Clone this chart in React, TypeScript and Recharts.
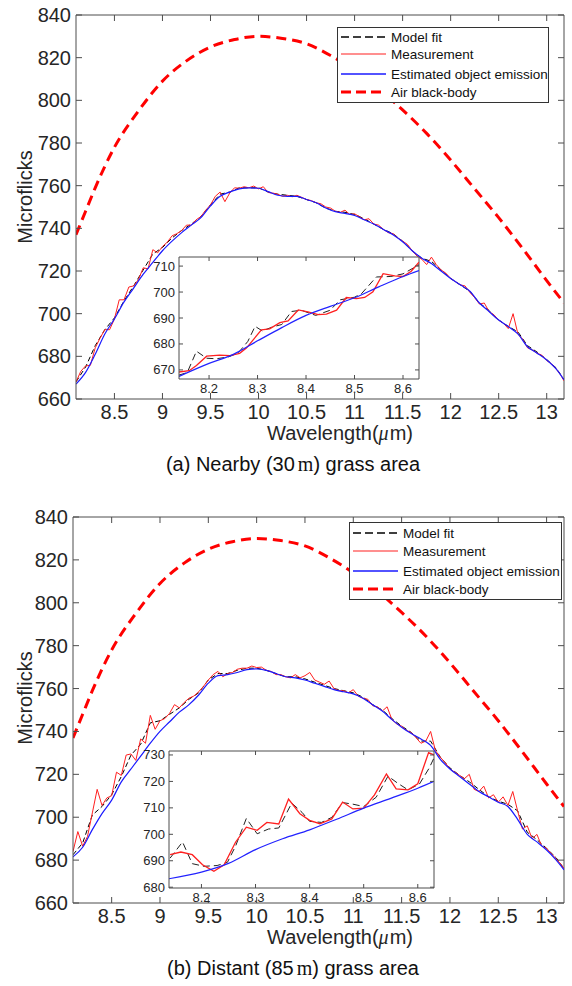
import React from "react";
import { LineChart, Line, XAxis, YAxis, ReferenceLine, CartesianGrid } from "recharts";

const FONT = '"Liberation Sans", Arial, Helvetica, sans-serif';
const SERIF = '"Liberation Serif", "DejaVu Serif", serif';
const AXIS = "#4d4d4d";
const TXT = "#262626";

// wavelength grid of the measured spectrum (um)
const measX = [
  8.1, 8.15, 8.2, 8.25, 8.3, 8.35, 8.4, 8.45, 8.5, 8.55, 8.6, 8.65, 8.7, 8.75, 8.8, 8.85, 8.9, 8.95,
  9.0, 9.05, 9.1, 9.15, 9.2, 9.25, 9.3, 9.35, 9.4, 9.45, 9.5, 9.55, 9.6, 9.65, 9.7, 9.75, 9.8, 9.85, 9.9, 9.95,
  10.0, 10.05, 10.1, 10.15, 10.2, 10.25, 10.3, 10.35, 10.4, 10.45, 10.5, 10.55, 10.6, 10.65, 10.7, 10.75, 10.8, 10.85, 10.9, 10.95,
  11.0, 11.05, 11.1, 11.15, 11.2, 11.25, 11.3, 11.35, 11.4, 11.45, 11.5, 11.55, 11.6, 11.65, 11.7, 11.75, 11.8, 11.85, 11.9, 11.95,
  12.0, 12.05, 12.1, 12.15, 12.2, 12.25, 12.3, 12.35, 12.4, 12.45, 12.5, 12.55, 12.6, 12.65, 12.7, 12.75, 12.8, 12.85, 12.9, 12.95,
  13.0, 13.05, 13.1, 13.15, 13.18,
];

// (a) nearby grass: measurement
const measA = [
  668, 673, 675.5, 675.8, 684, 688.5, 692.5, 692.5, 697.5, 706.5, 706.5, 712.5, 713, 716, 721.5, 721, 730, 728.5,
  731.5, 733.5, 736.5, 737.5, 739, 741.5, 741.5, 744, 745.5, 748.5, 751, 755, 757, 752.5, 756.5, 759, 758.8, 759.5, 759, 759.8,
  758.5, 759.5, 756.8, 756.5, 756, 755, 755.5, 754.8, 755.5, 754.5, 753.5, 753, 752, 751.5, 750, 749.5, 748, 747.5, 748.5, 746.5,
  746.8, 745.5, 744, 744.5, 742, 741.5, 739.5, 738, 737.5, 735.5, 734, 732.5, 729.5, 727, 725.5, 723, 726.5, 723, 720.5, 719,
  716.5, 715, 713.5, 713, 710, 707.5, 704.5, 705, 701, 699.5, 697, 695.5, 693, 700, 690.5, 688, 684, 683, 681.5, 680.5,
  678, 676.5, 674, 671, 668.5,
];

// (b) distant grass: measurement
const measB = [
  684, 693.3, 686.5, 691, 702, 713, 705.5, 709, 710, 721, 719.5, 729, 729.5, 726.5, 736.5, 734.5, 747.5, 741,
  745, 746, 748.5, 752.5, 751, 753.5, 755.5, 756.5, 758.5, 761, 764, 766.5, 768, 765.5, 767, 767.5, 769, 769.5, 769.5, 770.5,
  769.8, 770, 768.5, 768, 766.5, 766.5, 765.5, 765, 766.5, 765, 766, 767.5, 764, 763, 762, 763.5, 760, 759, 759, 758,
  759.5, 756.5, 755.5, 755, 752, 751.5, 749.5, 751.5, 745.5, 743.5, 742.5, 740.5, 739.5, 737, 734.5, 735.5, 740, 731, 728, 725.5,
  722.5, 721, 719.5, 718, 720, 713, 712, 714.5, 709, 710.5, 707, 709.5, 705.5, 712, 703, 694.5, 696, 690, 692, 686.5,
  685.5, 683, 680.5, 678, 676,
];

// coarser grid for model fit and estimated emission
const fitX = [
  8.1, 8.2, 8.3, 8.4, 8.5, 8.6, 8.7, 8.8, 8.9, 9.0, 9.1, 9.2, 9.3, 9.4, 9.5, 9.6, 9.7, 9.8, 9.9,
  10.0, 10.1, 10.2, 10.3, 10.4, 10.5, 10.6, 10.7, 10.8, 10.9, 11.0, 11.1, 11.2, 11.3, 11.4, 11.5, 11.6, 11.7, 11.8, 11.9,
  12.0, 12.1, 12.2, 12.3, 12.4, 12.5, 12.6, 12.7, 12.8, 12.9, 13.0, 13.1, 13.18,
];
const fitA = [
  668, 675, 685, 692.5, 698, 706, 713, 720.5, 728, 731, 735.5, 739, 742, 745.5, 751, 756, 757, 759, 759,
  759, 757, 756, 755.5, 755, 753.5, 752, 749.5, 748, 747.5, 746.5, 744.5, 742, 739.5, 737.5, 734, 729.5, 726, 724.5, 720.5,
  716.5, 713.5, 710.5, 705, 701.5, 697, 694, 691.5, 685, 682, 678.5, 674.5, 669,
];
const emisA = [
  667, 672.5, 681, 690.5, 697.5, 705.5, 712, 718.5, 724, 729.5, 734, 738, 741.5, 745, 750.5, 755, 757, 758.5, 759,
  758.8, 757.2, 755.5, 755, 755, 753.5, 752, 749.5, 747.8, 747, 746, 744, 742, 739.5, 737, 733.7, 729.5, 726, 723.5, 720,
  716.5, 713.5, 710.5, 705, 701, 697, 694, 690.5, 684.5, 681.5, 678.3, 674, 669,
];
const fitB = [
  682.5, 688, 701, 705, 710.5, 719, 729, 734, 744, 745, 748, 751, 755, 758, 764, 767, 767, 768.5, 769.5,
  769.5, 768.5, 767, 765.5, 765.5, 764.5, 763, 761.5, 760, 759, 758, 756, 752.5, 750, 746, 742.5, 739.5, 735.5, 735.5, 728,
  723, 719.5, 716.5, 713, 709.5, 707.5, 706, 703, 693, 689.5, 685.5, 681, 676,
];
const emisB = [
  681.5, 686, 694.2, 701.7, 708, 716.5, 722.5, 728.5, 734.5, 740, 744.5, 749, 752.5, 757, 762.5, 766, 766.5, 767.5, 768.8,
  769.2, 768.5, 767, 765.5, 765, 764, 762.5, 761, 759.5, 758.5, 757.5, 755.5, 752.5, 749.5, 745.5, 742, 739, 736.5, 733.5, 727,
  722.5, 719, 715.5, 712, 709.5, 707, 705, 699, 692, 688.5, 684.7, 680, 675.5,
];

// air black-body curve (same in both panels)
const airX = [8.1, 8.2, 8.3, 8.5, 8.75, 9.0, 9.25, 9.5, 9.75, 10.0, 10.25, 10.5, 10.75, 11.0, 11.25, 11.5, 11.75, 12.0, 12.25, 12.5, 12.75, 13.0, 13.18];
const airBB = [737, 748, 759, 778, 795, 809, 818.5, 825, 828.5, 830, 829, 826.5, 821, 814, 805.5, 795.5, 784.5, 772, 758.5, 745, 730.5, 715.5, 705];

// zoomed insets (8.14 - 8.63 um)
const insAMeasX = [8.138, 8.159, 8.174, 8.195, 8.222, 8.243, 8.263, 8.277, 8.291, 8.308, 8.325, 8.346, 8.363, 8.384, 8.404, 8.425, 8.442, 8.463, 8.483, 8.504, 8.521, 8.538, 8.559, 8.583, 8.6, 8.617, 8.633];
const insAMeas = [669.2, 669.7, 671.7, 675.3, 675.7, 675.5, 676.4, 678.4, 681.6, 685.4, 685.8, 688.2, 688.9, 693.1, 692.4, 691.3, 691.5, 693, 697.9, 697.5, 697.9, 700.1, 707.1, 706.2, 706, 708, 711.5];
const insAFitX = [8.138, 8.155, 8.174, 8.195, 8.215, 8.24, 8.26, 8.28, 8.295, 8.31, 8.33, 8.35, 8.37, 8.39, 8.42, 8.45, 8.47, 8.5, 8.515, 8.545, 8.575, 8.6, 8.633];
const insAFit = [668, 669, 677.2, 674.5, 674.3, 675, 676.5, 681, 686.8, 685, 686.5, 687.5, 692.5, 693, 691, 693, 697, 698, 699.5, 705.8, 706, 707, 710.5];
const insAEmisX = [8.138, 8.2, 8.25, 8.3, 8.35, 8.4, 8.45, 8.5, 8.55, 8.6, 8.633];
const insAEmis = [667.5, 672.5, 676, 681.2, 686.3, 691, 694.5, 697.8, 702, 706, 708.3];

const insBMeasX = [8.142, 8.162, 8.183, 8.202, 8.223, 8.242, 8.263, 8.283, 8.303, 8.321, 8.343, 8.361, 8.382, 8.4, 8.419, 8.441, 8.461, 8.48, 8.5, 8.52, 8.542, 8.56, 8.582, 8.6, 8.62, 8.63];
const insBMeas = [692.3, 693.3, 692.3, 688.5, 686, 688.5, 697, 702.7, 701.5, 704.5, 703.9, 713.3, 707.8, 705.3, 704, 705.8, 712.2, 709.6, 709.9, 714.9, 722.8, 717.2, 716.8, 719.1, 730.9, 730];
const insBFitX = [8.142, 8.165, 8.183, 8.205, 8.229, 8.248, 8.263, 8.283, 8.303, 8.324, 8.343, 8.367, 8.386, 8.4, 8.422, 8.441, 8.461, 8.48, 8.5, 8.523, 8.545, 8.563, 8.582, 8.603, 8.621, 8.634];
const insBFit = [691, 697.1, 688.9, 687.9, 688.2, 689.4, 695.5, 706, 700.2, 702, 702.4, 711.8, 708.3, 704.9, 704.5, 706.4, 712, 711.4, 710.5, 714, 722, 719.3, 716.8, 719, 725, 730.6];
const insBEmisX = [8.14, 8.2, 8.25, 8.3, 8.35, 8.4, 8.45, 8.5, 8.55, 8.6, 8.63];
const insBEmis = [683.2, 685.7, 689, 694.2, 698.3, 701.7, 705.7, 709.9, 713.6, 717.4, 720];

const mainXTicks = [8.5, 9, 9.5, 10, 10.5, 11, 11.5, 12, 12.5, 13];
const mainYTicks = [660, 680, 700, 720, 740, 760, 780, 800, 820, 840];
const insXTicks = [8.2, 8.3, 8.4, 8.5, 8.6];
const insAYTicks = [670, 680, 690, 700, 710];
const insBYTicks = [680, 690, 700, 710, 720, 730];

const legendNames = ["Model fit", "Measurement", "Estimated object emission", "Air black-body"];

const pts = (xs: number[], ys: number[]) => xs.map((x, i) => ({ x, y: ys[i] }));

function xTick(plotH: number, len: number, gap: number, size: number) {
  return (p: any) => (
    <g>
      <line x1={p.x} y1={p.y} x2={p.x} y2={p.y - len} stroke={AXIS} />
      <line x1={p.x} y1={p.y - plotH} x2={p.x} y2={p.y - plotH + len} stroke={AXIS} />
      <text x={p.x} y={p.y + gap} textAnchor="middle" dominantBaseline="central" fontSize={size} fontFamily={FONT} fill={TXT}>
        {p.payload.value}
      </text>
    </g>
  );
}

function yTick(plotW: number, len: number, gap: number, size: number) {
  return (p: any) => (
    <g>
      <line x1={p.x} y1={p.y} x2={p.x + len} y2={p.y} stroke={AXIS} />
      <line x1={p.x + plotW} y1={p.y} x2={p.x + plotW - len} y2={p.y} stroke={AXIS} />
      <text x={p.x - gap} y={p.y} textAnchor="end" dominantBaseline="central" fontSize={size} fontFamily={FONT} fill={TXT}>
        {p.payload.value}
      </text>
    </g>
  );
}

function XTitle({ cx, cy }: any) {
  return (
    <text x={cx} y={cy} textAnchor="middle" dominantBaseline="central" fontSize={20} fontFamily={FONT} fill={TXT}>
      Wavelength(<tspan fontFamily={SERIF} fontStyle="italic">μ</tspan>
      <tspan dx={1}>m)</tspan>
    </text>
  );
}

function YTitle({ cx, cy }: any) {
  return (
    <text x={cx} y={cy} transform={`rotate(-90 ${cx} ${cy})`} textAnchor="middle" dominantBaseline="central" fontSize={20} fontFamily={FONT} fill={TXT}>
      Microflicks
    </text>
  );
}

function MainPanel(props: any) {
  const { meas, fit, emis, margin, plotW, plotH, xTitleY, yTitleY } = props;
  return (
    <LineChart width={572} height={450} margin={margin}>
      <XAxis dataKey="x" type="number" domain={[8.1, 13.18]} allowDataOverflow ticks={mainXTicks} interval={0}
        height={30} tickSize={0} tickMargin={0} tickLine={false} axisLine={{ stroke: AXIS }}
        tick={xTick(plotH, 6, 13, 20)} label={<XTitle cx={340} cy={xTitleY} />} />
      <YAxis type="number" domain={[660, 840]} allowDataOverflow ticks={mainYTicks} interval={0}
        width={60} tickSize={0} tickMargin={0} tickLine={false} axisLine={{ stroke: AXIS }}
        tick={yTick(plotW, 6, 5, 20)} label={<YTitle cx={25} cy={yTitleY} />} />
      <ReferenceLine y={840} stroke={AXIS} />
      <ReferenceLine x={13.18} stroke={AXIS} />
      <Line data={pts(fitX, fit)} dataKey="y" type="linear" stroke="#000" strokeWidth={1} strokeDasharray="5 3" dot={false} isAnimationActive={false} />
      <Line data={pts(measX, meas)} dataKey="y" type="linear" stroke="#ff2020" strokeWidth={1} dot={false} isAnimationActive={false} />
      <Line data={pts(fitX, emis)} dataKey="y" type="monotone" stroke="#1a1aff" strokeWidth={1.2} dot={false} isAnimationActive={false} />
      <Line data={pts(airX, airBB)} dataKey="y" type="monotone" stroke="#ff0000" strokeWidth={3} strokeDasharray="10 6" dot={false} isAnimationActive={false} />
    </LineChart>
  );
}

function InsetPanel(props: any) {
  const { w, h, xDom, yDom, yTicks, plotW, plotH, meas, fit, emis } = props;
  return (
    <LineChart width={w} height={h} margin={{ top: 5, right: 5, bottom: 0, left: 0 }}>
      <CartesianGrid fill="#fff" horizontal={false} vertical={false} />
      <XAxis dataKey="x" type="number" domain={xDom} allowDataOverflow ticks={insXTicks} interval={0}
        height={20} tickSize={0} tickMargin={0} tickLine={false} axisLine={{ stroke: AXIS }}
        tick={xTick(plotH, 4, 9, 13)} />
      <YAxis type="number" domain={yDom} allowDataOverflow ticks={yTicks} interval={0}
        width={40} tickSize={0} tickMargin={0} tickLine={false} axisLine={{ stroke: AXIS }}
        tick={yTick(plotW, 4, 4, 13)} />
      <ReferenceLine y={yDom[1]} stroke={AXIS} />
      <ReferenceLine x={xDom[1]} stroke={AXIS} />
      <Line data={fit} dataKey="y" type="linear" stroke="#222" strokeWidth={1} strokeDasharray="7 4" dot={false} isAnimationActive={false} />
      <Line data={meas} dataKey="y" type="linear" stroke="#ff2020" strokeWidth={1.3} dot={false} isAnimationActive={false} />
      <Line data={emis} dataKey="y" type="monotone" stroke="#2222ff" strokeWidth={1.2} dot={false} isAnimationActive={false} />
    </LineChart>
  );
}

function LegendBox({ left, top, w, h, rows }: any) {
  const styles = [
    { stroke: "#000", width: 1.6, dash: "8 4" },
    { stroke: "#ff2020", width: 1.2, dash: undefined },
    { stroke: "#1a1aff", width: 1.6, dash: undefined },
    { stroke: "#ff0000", width: 3, dash: "10 5" },
  ];
  return (
    <svg width={w} height={h} style={{ position: "absolute", left, top }}>
      <rect x={0.5} y={0.5} width={w - 1} height={h - 1} fill="#fff" stroke="#333" />
      {legendNames.map((name, i) => (
        <g key={name}>
          <line x1={4} x2={49} y1={rows[i]} y2={rows[i]} stroke={styles[i].stroke} strokeWidth={styles[i].width} strokeDasharray={styles[i].dash} />
          <text x={54} y={rows[i]} dominantBaseline="central" fontSize={13.5} fontFamily={FONT} fill="#111">{name}</text>
        </g>
      ))}
    </svg>
  );
}

function Caption({ top, label, dist, rest }: any) {
  return (
    <div style={{ position: "absolute", left: 0, top, width: 586, textAlign: "center", fontSize: 20, lineHeight: "24px", fontFamily: FONT, color: "#111" }}>
      {label} ({dist}<span style={{ fontFamily: SERIF, marginLeft: 3 }}>m</span>) {rest}
    </div>
  );
}

export default function App() {
  return (
    <div style={{ position: "absolute", left: 0, top: 0, width: 572, height: 986, background: "#fff" }}>
      <div style={{ position: "absolute", left: 0, top: 0 }}>
        <MainPanel meas={measA} fit={fitA} emis={emisA} margin={{ top: 15, right: 8, bottom: 21, left: 16 }}
          plotW={488} plotH={384} xTitleY={433} yTitleY={197} />
      </div>
      <div style={{ position: "absolute", left: 139, top: 252 }}>
        <InsetPanel w={285} h={147} xDom={[8.138, 8.633]} yDom={[666.5, 713.5]} yTicks={insAYTicks} plotW={240} plotH={122}
          meas={pts(insAMeasX, insAMeas)} fit={pts(insAFitX, insAFit)} emis={pts(insAEmisX, insAEmis)} />
      </div>
      <LegendBox left={337} top={27} w={212} h={76} rows={[37 - 27, 54 - 27, 74 - 27, 92 - 27]} />
      <Caption top={452} label="(a) Nearby" dist="30" rest="grass area" />

      <div style={{ position: "absolute", left: 0, top: 500 }}>
        <MainPanel meas={measB} fit={fitB} emis={emisB} margin={{ top: 17, right: 8, bottom: 17, left: 13 }}
          plotW={491} plotH={386} xTitleY={437} yTitleY={198} />
      </div>
      <div style={{ position: "absolute", left: 129, top: 746 }}>
        <InsetPanel w={310} h={162} xDom={[8.14, 8.63]} yDom={[679.7, 731.5]} yTicks={insBYTicks} plotW={265} plotH={137}
          meas={pts(insBMeasX, insBMeas)} fit={pts(insBFitX, insBFit)} emis={pts(insBEmisX, insBEmis)} />
      </div>
      <LegendBox left={349} top={522} w={213} h={78} rows={[11, 29, 49, 67]} />
      <Caption top={956} label="(b) Distant" dist="85" rest="grass area" />
    </div>
  );
}
